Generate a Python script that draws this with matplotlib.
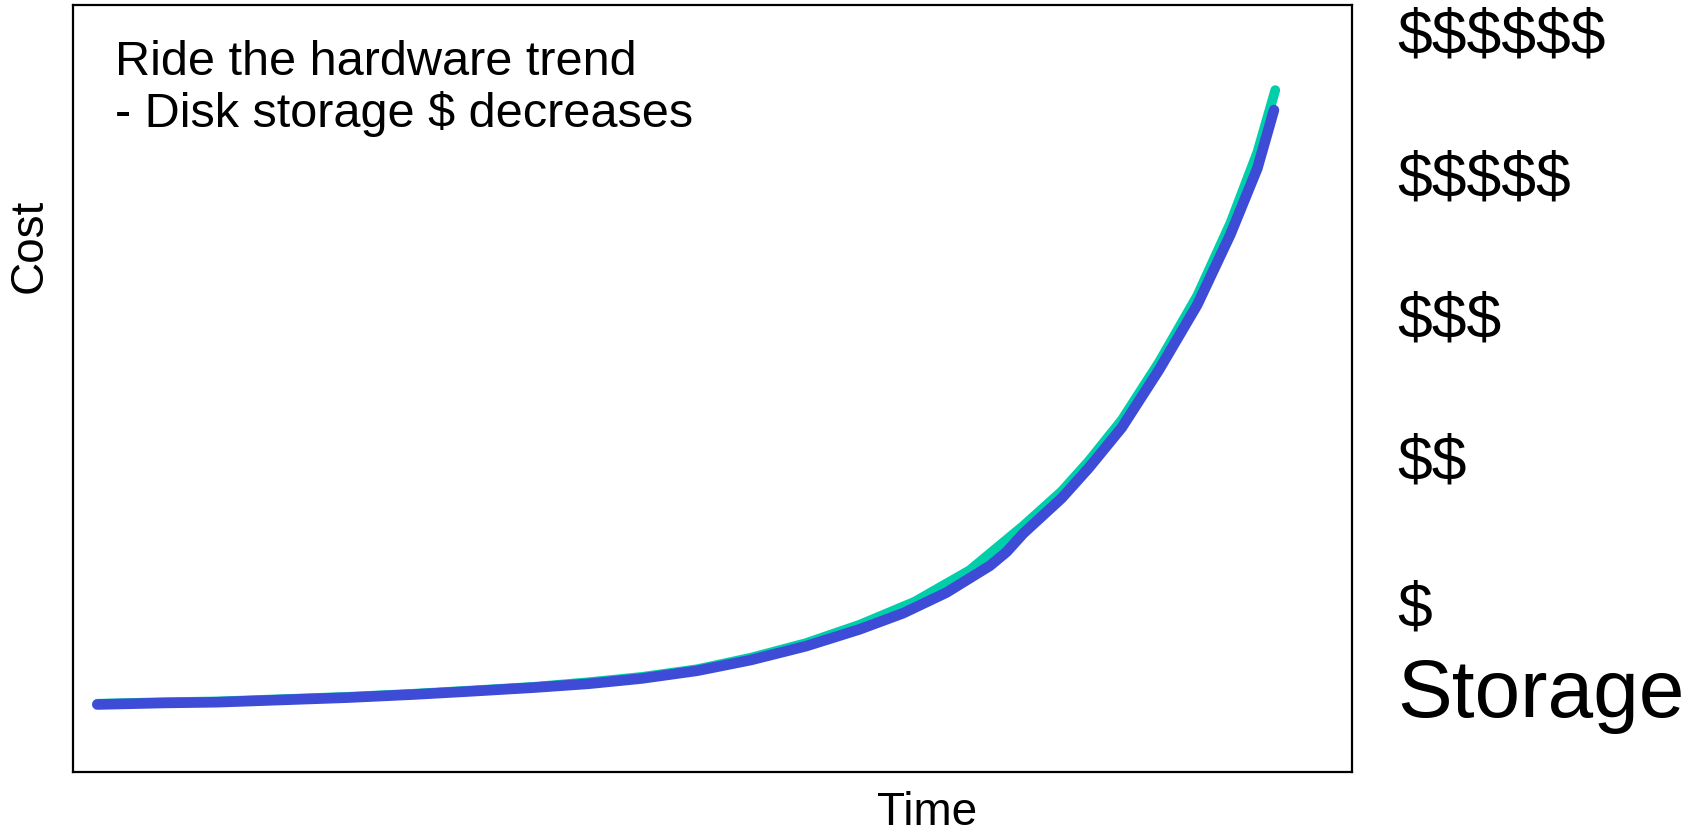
import matplotlib
matplotlib.use("Agg")
import matplotlib.pyplot as plt
from matplotlib import font_manager

plt.rcParams['text.parse_math'] = False  # lots of literal $ signs

# data (arbitrary units)
time_blue = [1.9, 7.1, 11.3, 16.4, 21.5, 26.6, 30.9, 36.0, 40.3, 44.5, 48.8, 53.0, 57.3, 61.5,
             64.9, 68.3, 71.7, 73.0, 74.3, 77.3, 79.4, 82.0, 84.9, 87.9, 90.5, 92.6, 93.9]
cost_blue = [8.8, 9.0, 9.1, 9.4, 9.7, 10.1, 10.5, 11.0, 11.5, 12.2, 13.2, 14.6, 16.4, 18.6,
             20.7, 23.4, 26.9, 28.7, 31.1, 35.7, 39.6, 44.9, 52.4, 60.9, 70.1, 78.7, 86.3]
time_green = [1.9, 7.1, 11.3, 16.4, 21.5, 26.6, 30.9, 36.0, 40.3, 44.5, 48.8, 53.0, 57.3, 61.5,
              65.8, 70.1, 74.3, 77.3, 79.4, 82.0, 84.9, 87.9, 90.5, 92.6, 94.0]
cost_green = [8.9, 9.1, 9.2, 9.5, 9.8, 10.2, 10.6, 11.1, 11.7, 12.4, 13.4, 14.9, 16.8, 19.2,
              22.2, 26.3, 32.1, 36.6, 40.5, 45.9, 53.4, 62.1, 71.6, 80.8, 88.9]

cost_levels = ["$$$$$$", "$$$$$", "$$$", "$$", "$"]
level_y = [37, 180, 321, 463, 610]  # pixel rows from top

names = {f.name for f in font_manager.fontManager.ttflist}
base_font = "Liberation Sans" if "Liberation Sans" in names else "DejaVu Sans"

W, H = 1707, 834
fig = plt.figure(figsize=(W / 100, H / 100), dpi=100)
ax = fig.add_axes([73 / W, 1 - 772 / H, (1352 - 73) / W, (772 - 5) / H])

ax.plot(time_green, cost_green, color="#00cfaa", linewidth=7, solid_capstyle="round")
ax.plot(time_blue, cost_blue, color="#3d4bd6", linewidth=7.6, solid_capstyle="round")

ax.set_xlim(0, 100)
ax.set_ylim(0, 100)
ax.set_xticks([])
ax.set_yticks([])
for s in ax.spines.values():
    s.set_linewidth(1.6)
    s.set_color("black")

# annotation inside the axes
fig.text(115 / W, 1 - 75 / H, "Ride the hardware trend", family=base_font,
         fontsize=35, va="baseline", ha="left")
fig.text(115 / W, 1 - 127 / H, "- Disk storage $ decreases", family=base_font,
         fontsize=35, va="baseline", ha="left")

# axis labels
fig.text(927 / W, 1 - 825 / H, "Time", family=base_font, fontsize=33,
         ha="center", va="baseline")
fig.text(30 / W, 1 - 246 / H, "Cost", family=base_font, fontsize=33,
         ha="center", va="center", rotation=90)

# cost scale on the right
for lab, yy in zip(cost_levels, level_y):
    fig.text(1397 / W, 1 - yy / H, lab, family=base_font, fontsize=45,
             ha="left", va="center")
fig.text(1397 / W, 1 - 717 / H, "Storage", family=base_font, fontsize=59,
         ha="left", va="baseline")

fig.savefig("out.png", dpi=100)
